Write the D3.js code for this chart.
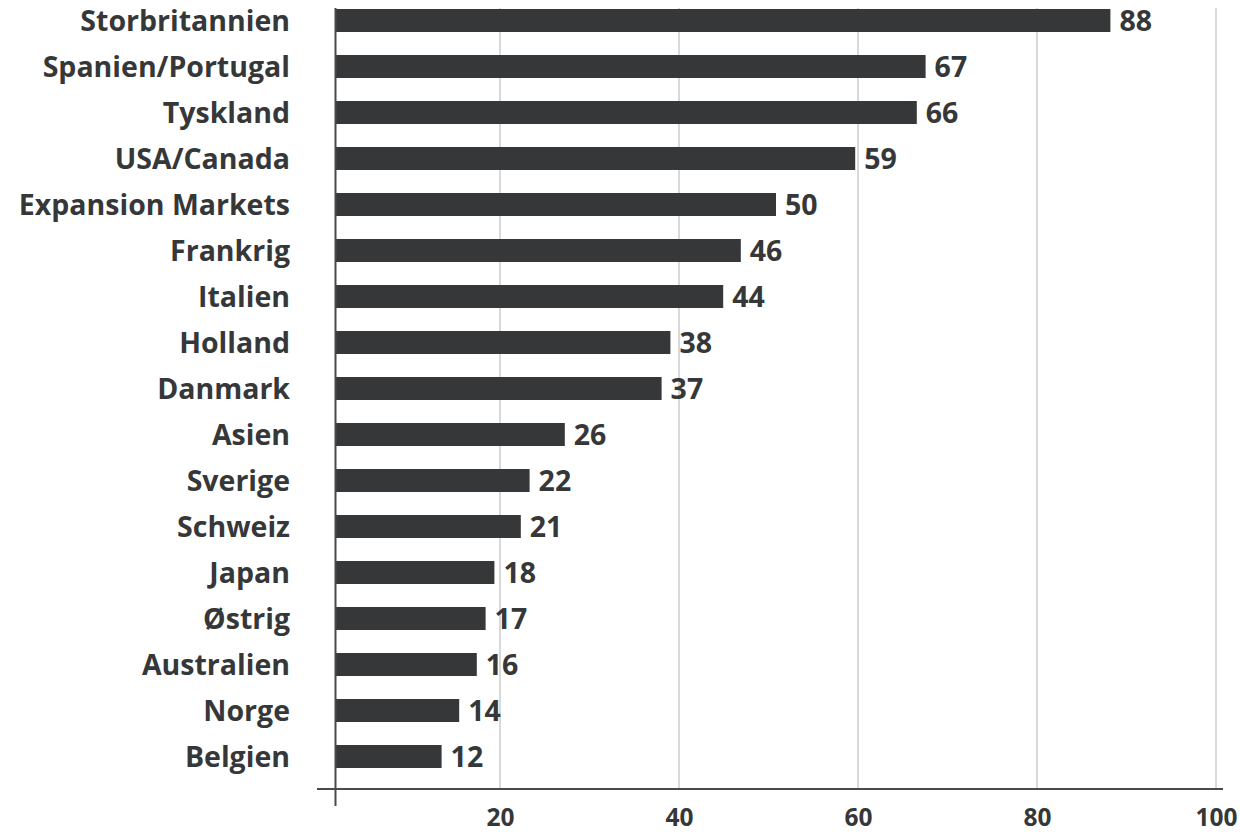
<!DOCTYPE html>
<html><head><meta charset="utf-8">
<script src="https://cdn.jsdelivr.net/npm/d3@7"></script>
<style>
html,body{margin:0;padding:0;background:#fff;}
svg{display:block;}
text{font-family:"Open Sans","Noto Sans",sans-serif;font-weight:700;fill:#363739;}
</style></head>
<body>
<svg id="chart" width="1240" height="832"></svg>
<script>
const categories = ["Storbritannien","Spanien/Portugal","Tyskland","USA/Canada","Expansion Markets","Frankrig","Italien","Holland","Danmark","Asien","Sverige","Schweiz","Japan","Østrig","Australien","Norge","Belgien"];
const values = [88,67,66,59,50,46,44,38,37,26,22,21,18,17,16,14,12];
const tickValues = [20,40,60,80,100];

const svg = d3.select("#chart");
// bar scale (bars start at the vertical axis)
const x = d3.scaleLinear().domain([0,100]).range([336,1216]);
// gridline / tick scale (as in the original, slightly offset)
const xg = d3.scaleLinear().domain([0,100]).range([321,1216]);
const y = d3.scaleBand().domain(categories).range([-2.5,779.5]).paddingInner(0.5).paddingOuter(0.25);
const axisY = 789;

// gridlines
svg.append("g").selectAll("line").data(tickValues).join("line")
  .attr("x1",d=>xg(d)).attr("x2",d=>xg(d)).attr("y1",8).attr("y2",axisY)
  .attr("stroke","#d9d9d9").attr("stroke-width",2);

// bars
svg.append("g").selectAll("rect").data(values).join("rect")
  .attr("x",x(0)).attr("y",(d,i)=>y(categories[i]))
  .attr("width",d=>x(d)-x(0)).attr("height",y.bandwidth())
  .attr("fill","#363739");

// value labels
svg.append("g").selectAll("text").data(values).join("text")
  .attr("x",d=>x(d)+9).attr("y",(d,i)=>y(categories[i])+y.bandwidth()/2)
  .attr("dy","0.36em").attr("font-size",28.5).text(d=>d);

// category labels
const yAxis = d3.axisLeft(y).tickSize(0).tickPadding(0);
const gy = svg.append("g").attr("transform","translate(290,0)").call(yAxis);
gy.select(".domain").remove();
gy.selectAll("text").attr("font-size",28.5).attr("fill","#363739").attr("dy","0.36em")
  .style("font-family","'Open Sans','Noto Sans',sans-serif").style("font-weight",700);

// x axis
const xAxis = d3.axisBottom(xg).tickValues(tickValues).tickSize(0).tickPadding(0);
const gx = svg.append("g").attr("transform",`translate(0,${axisY})`).call(xAxis);
gx.select(".domain").remove();
gx.selectAll("text").attr("font-size",24.5).attr("fill","#363739").attr("dy",0).attr("y",37)
  .style("font-family","'Open Sans','Noto Sans',sans-serif").style("font-weight",700);

// axis lines
svg.append("line").attr("x1",317).attr("x2",1223).attr("y1",axisY).attr("y2",axisY)
  .attr("stroke","#4a4a4a").attr("stroke-width",2);
svg.append("line").attr("x1",x(0)-0.5).attr("x2",x(0)-0.5).attr("y1",8).attr("y2",806)
  .attr("stroke","#4a4a4a").attr("stroke-width",2);
</script>
</body></html>
